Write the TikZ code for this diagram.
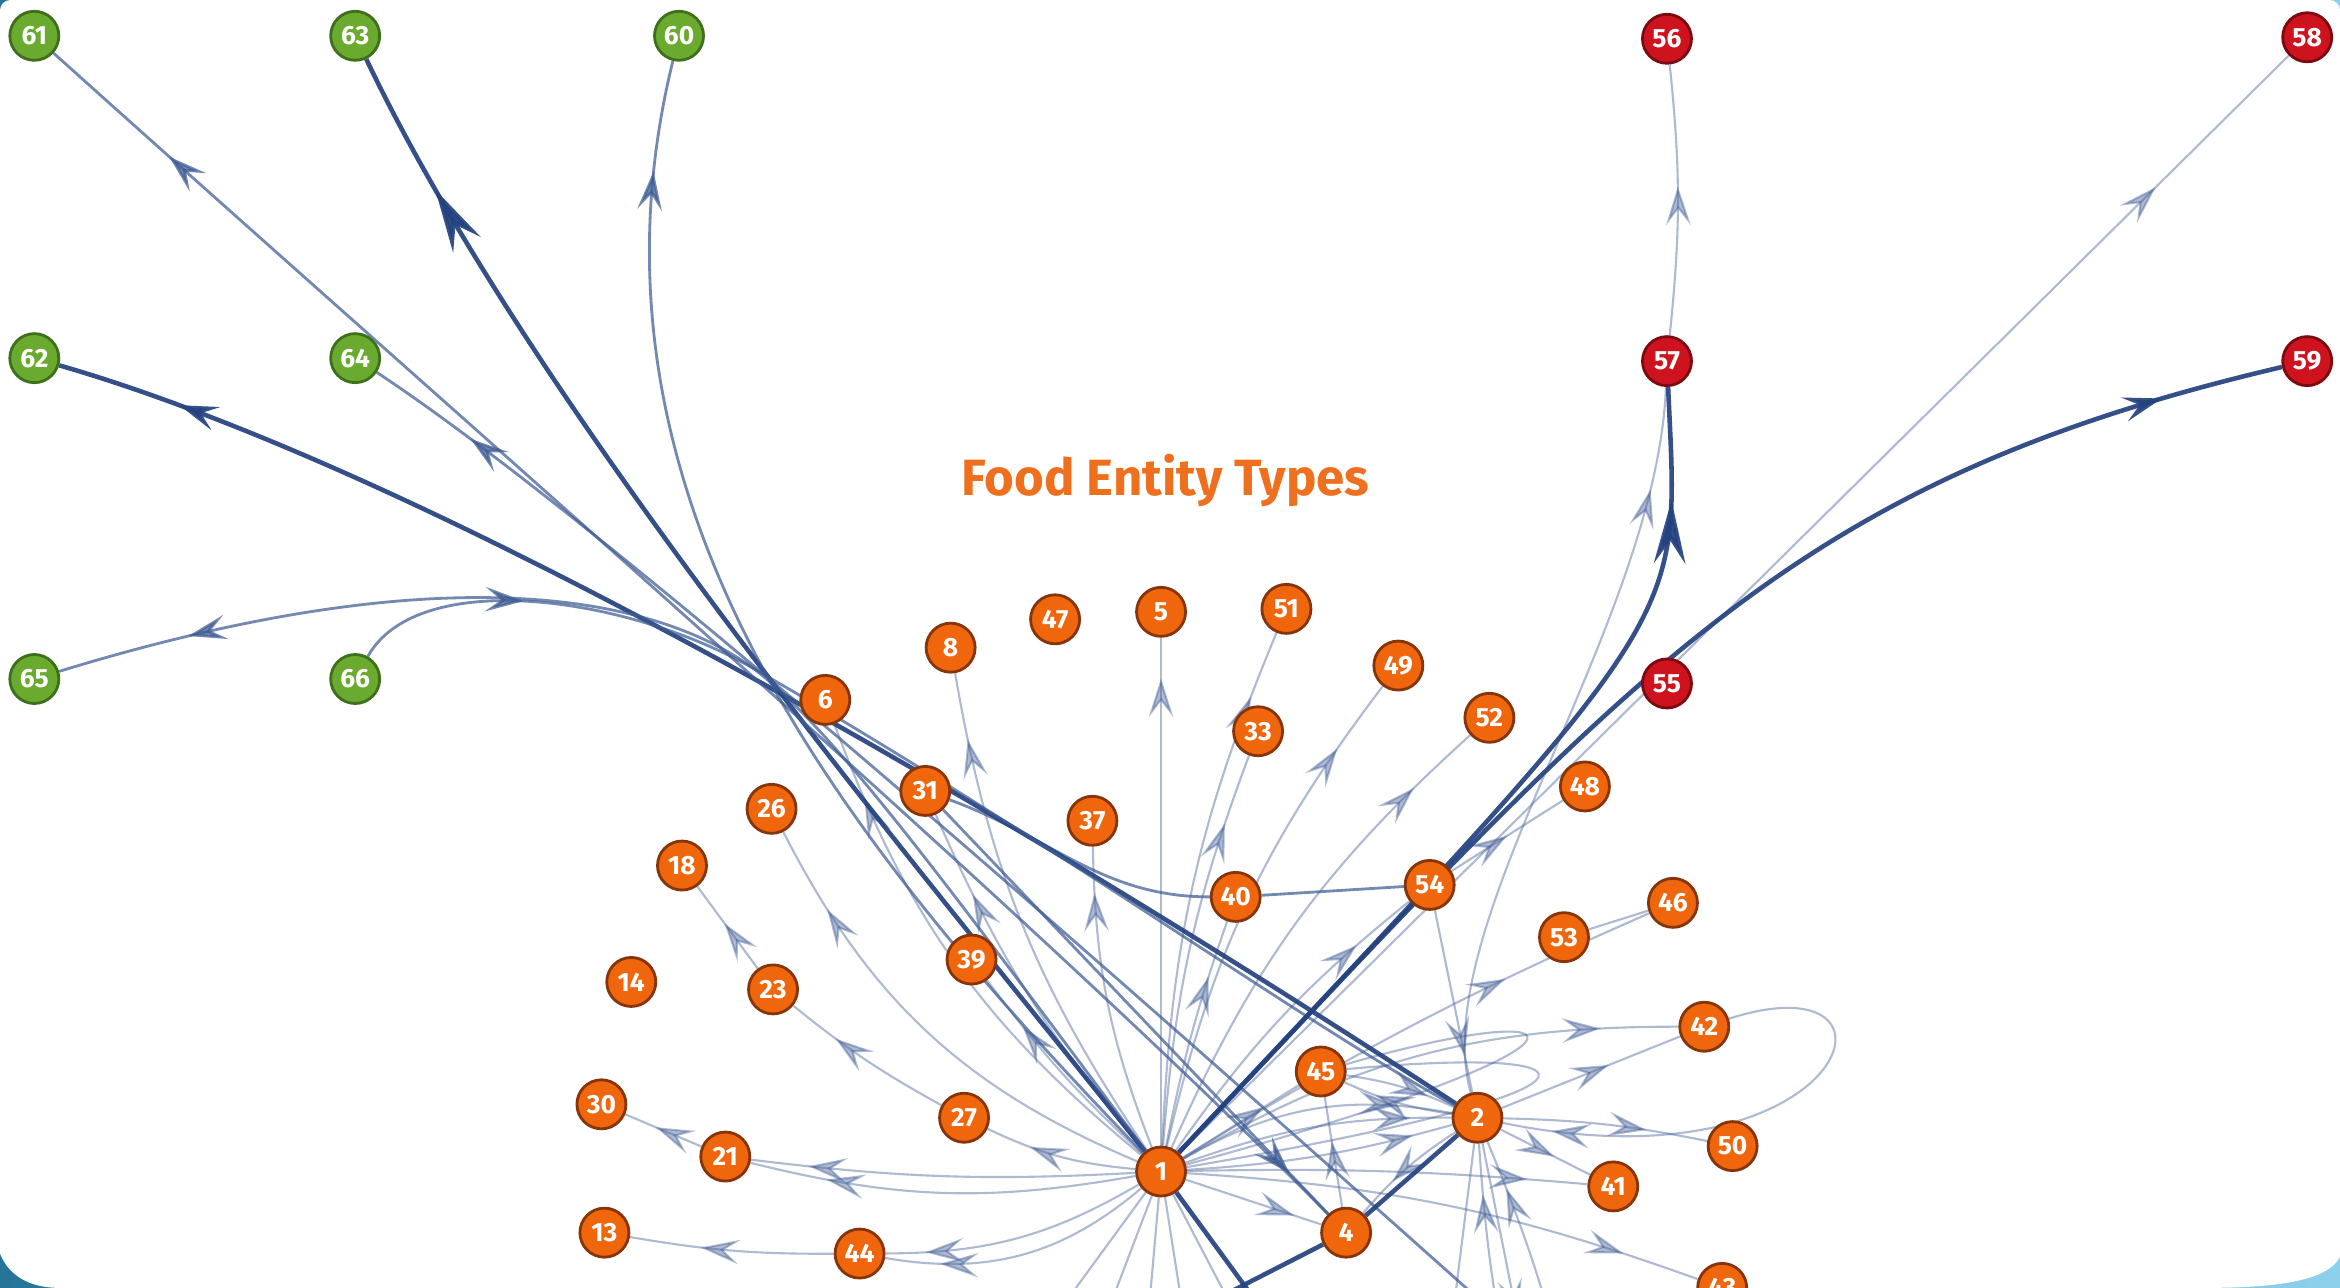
\documentclass[tikz,border=0pt]{standalone}
\usepackage{fontspec}
\setsansfont{Fira Sans}
\usetikzlibrary{arrows.meta,decorations.markings}
\pgfdeclarelayer{backdrop}
\pgfdeclarelayer{edgelayer}
\pgfsetlayers{backdrop,edgelayer,main}
\definecolor{foodOrange}{RGB}{240,102,12}
\definecolor{foodBorder}{RGB}{135,52,8}
\definecolor{typeGreen}{RGB}{106,170,46}
\definecolor{greenBorder}{RGB}{62,112,28}
\definecolor{typeRed}{RGB}{206,18,30}
\definecolor{redBorder}{RGB}{125,10,16}
\definecolor{edgeBlue}{RGB}{62,92,148}
\definecolor{edgeDark}{RGB}{36,66,128}
\definecolor{titleOrange}{RGB}{238,112,30}
\definecolor{frameDark}{RGB}{38,116,152}
\definecolor{frameLight}{RGB}{140,208,235}

\begin{document}
\begin{tikzpicture}
[x=0.014923cm,y=0.014923cm,
  nodeDecorate/.style={shape=circle,minimum size=0.49cm,inner sep=0pt,line width=0.8pt,
    text=white,font=\sffamily\bfseries\fontsize{7.5}{8}\selectfont},
  foodNode/.style={nodeDecorate,fill=foodOrange,draw=foodBorder},
  greenNode/.style={nodeDecorate,fill=typeGreen,draw=greenBorder},
  redNode/.style={nodeDecorate,fill=typeRed,draw=redBorder},
  lightEdge/.style={-,draw=edgeBlue,opacity=0.42,line width=0.6pt},
  midEdge/.style={-,draw=edgeBlue,opacity=0.72,line width=0.8pt},
  darkEdge/.style={-,draw=edgeDark,opacity=0.92,line width=1.3pt},
  midArrow/.style={postaction={decorate,decoration={markings,
    mark=at position #1 with {\arrow{Stealth[length=11pt,width=7pt,inset=4.5pt]}}}}},
  bigArrow/.style={postaction={decorate,decoration={markings,
    mark=at position #1 with {\arrow{Stealth[length=18pt,width=9pt,inset=6.5pt]}}}}}]
\useasboundingbox (0,0) rectangle (1568,863);

%% frame
\begin{pgfonlayer}{backdrop}
  \fill[left color=frameDark,right color=frameLight] (0,0) rectangle (1568,863);
  \fill[white] (0,500) [rounded corners=3pt] -- (0,863) -- (1568,863) [sharp corners]
    -- (1568,21) .. controls (1560,4) and (1522,0) .. (1478,0) -- (40,0)
    .. controls (20,0) and (6,8) .. (0,23) -- cycle;
\end{pgfonlayer}

\node (title) at (781,541) [text=titleOrange,font=\sffamily\bfseries\fontsize{14.5}{16}\selectfont]
  {Food Entity Types};

%% nodes or vertices
\foreach \nodename/\x/\y in {
  1/778/78, 2/990/114, 4/902/37, 5/778/453, 6/553/394, 8/637/429, 13/405/37,
  14/423/205, 18/457/283, 21/486/88, 23/518/200, 26/517/321, 27/646/114,
  30/403/123, 31/620/333, 33/843/373, 37/732/313, 39/651/220, 40/828/262,
  41/1081/68, 42/1142/175, 43/1154/0, 44/576/23, 45/885/145, 46/1121/258,
  47/707/448, 48/1062/336, 49/937/417, 50/1161/95, 51/862/455, 52/998/382,
  53/1048/235, 54/958/270}
{
  \node (n\nodename) at (\x,\y) [foodNode] {\nodename};
}
\foreach \nodename/\x/\y in {
  60/455/839, 61/23/839, 62/23/623, 63/238/839, 64/238/623, 65/23/408, 66/238/408}
{
  \node (n\nodename) at (\x,\y) [greenNode] {\nodename};
}
\foreach \nodename/\x/\y in {
  55/1117/405, 56/1117/837, 57/1117/621, 58/1546/838, 59/1546/621}
{
  \node (n\nodename) at (\x,\y) [redNode] {\nodename};
}
%% ends below the frame
\foreach \cname/\x/\y in {
  bA/640/-97, bB/650/-97, bC/700/-127, bD/906/-97, bE/760/-127, bF/810/-127,
  bG/880/-117, bH/1091/-97, bI/1030/-127, bJ/1060/-117, bK/1040/-137, bL/960/-127}
{
  \coordinate (\cname) at (\x,\y);
}
\coordinate (cv) at (505,415);

%% edges or lines
\begin{pgfonlayer}{edgelayer}
\path
\foreach \startnode/\endnode/\bend/\pos in {
  1/5/0/0.92, 1/51/10/0.87, 1/33/8/0.82, 1/49/12/0.85, 1/52/12/0.85,
  1/40/4/0.75, 1/37/10/0.85, 1/8/12/0.87, 1/39/5/0.75, 1/31/8/0.78,
  1/6/15/0.85, 1/26/20/0.82, 1/27/10/0.7, 27/23/5/0.7, 23/18/0/0.55,
  1/21/5/0.85, 1/21/12/0.8, 21/30/0/0.6, 1/44/15/0.85, 1/44/25/0.8,
  44/13/5/0.65, 1/54/8/0.8, 1/46/4/0.7, 1/42/15/0.85, 2/42/0/0.6,
  2/50/5/0.7, 2/41/0/0.6, 1/41/3/0.85, 1/43/8/0.85, 1/2/10/0.85,
  1/2/20/0.8, 1/2/-6/0.85, 1/45/0/0.7, 2/45/8/0.7, 45/2/8/0.75,
  4/45/0/0.6, 1/4/0/0.8, 2/4/-8/0.65, 54/2/0/0.8, 54/48/0/0.5,
  57/56/-6/0.55, 1/58/0/0.88}
{
  (n\startnode) edge[lightEdge,bend left=\bend,midArrow=\pos] (n\endnode)
};
\path
\foreach \startnode/\endnode in {n1/bB, n1/bC, n1/bE, n1/bF, n1/bG, n2/bL, n46/n53}
{
  (\startnode) edge[lightEdge] (\endnode)
};
\path (bI) edge[lightEdge,bend left=6,midArrow=0.85] (n2)
  (bJ) edge[lightEdge,bend right=6,midArrow=0.85] (n2)
  (n2) edge[lightEdge,midArrow=0.5] (bK);
\draw[lightEdge,midArrow=0.86] (n2) .. controls (955,243) and (1110,443) .. (n57);
\draw[lightEdge,midArrow=0.9] (n42) .. controls (1290,223) and (1240,63) .. (n2);
\draw[lightEdge] (n1) .. controls (1090,163) and (1070,198) .. (n45);
\draw[lightEdge] (n1) .. controls (1100,133) and (1080,163) .. (n45);
\draw[midEdge] (n31) to[out=-20,in=180] (n40) -- (n54);
\draw[midEdge,midArrow=0.9] (n31) -- (n4);

%% to the green types
\draw[darkEdge,midArrow=0.92] (n2) .. controls (700,303) and (300,543) .. (n62);
\draw[darkEdge,bigArrow=0.89] (n1) .. controls (625,270) and (360,583) .. (n63);
\draw[midEdge,midArrow=0.91] (n4) .. controls (700,243) and (330,563) .. (n61);
\draw[midEdge,midArrow=0.93] (bH) .. controls (800,163) and (420,503) .. (n64);
\draw[midEdge,midArrow=0.91] (n1) .. controls (560,303) and (380,533) .. (n60);
\draw[midEdge,midArrow=0.9] (n1) .. controls (640,263) and (560,373) .. (cv)
  .. controls (440,463) and (300,493) .. (n65);
\draw[midEdge,midArrow=0.14] (n66) .. controls (280,483) and (420,464) .. (cv)
  .. controls (700,303) and (880,173) .. (n2);

%% to the red types
\draw[darkEdge,bigArrow=0.88] (n1) .. controls (1138,462) and (1125,440) .. (n57);
\draw[darkEdge,midArrow=0.91] (n1) .. controls (1100,420) and (1200,540) .. (n59);
\draw[darkEdge] (n4) -- (n2);
\draw[darkEdge] (n4) -- (bA);
\draw[darkEdge] (n1) -- (bD);
\end{pgfonlayer}
\end{tikzpicture}
\end{document}
